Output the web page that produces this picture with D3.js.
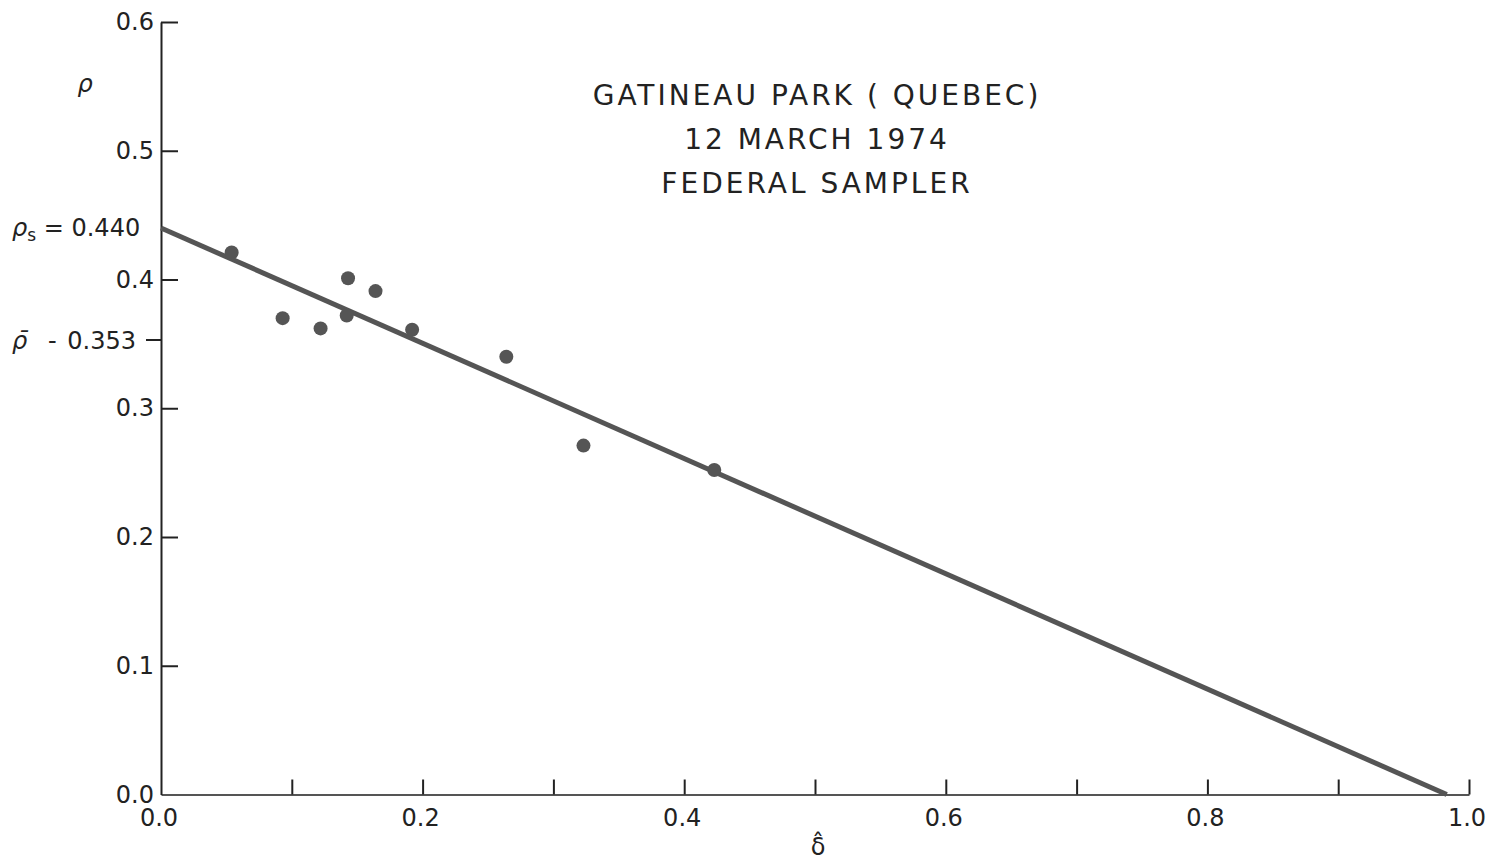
<!DOCTYPE html>
<html>
<head>
<meta charset="utf-8">
<script src="https://cdn.jsdelivr.net/npm/d3@7"></script>
<style>
body{margin:0;background:#fff;}
svg{display:block;font-family:"DejaVu Sans",sans-serif;}
</style>
</head>
<body>
<div id="chart"></div>
<script>
////////////////////////////////////////
// data

var delta = [0.054, 0.093, 0.122, 0.142, 0.143, 0.164, 0.192, 0.264, 0.323, 0.423];
var rho   = [0.421, 0.370, 0.362, 0.372, 0.401, 0.391, 0.361, 0.340, 0.271, 0.252];

var fitDelta = [0.0, 0.983];
var fitRho   = [0.440, 0.0];

var rhoS = 0.440;
var rhoBar = 0.353;

var xTicks = [0.1, 0.2, 0.3, 0.4, 0.5, 0.6, 0.7, 0.8, 0.9, 1.0];
var xLabels = [0.0, 0.2, 0.4, 0.6, 0.8, 1.0];
var yTicks = [0.0, 0.1, 0.2, 0.3, 0.4, 0.5, 0.6];

var titleLines = ['GATINEAU PARK ( QUEBEC)', '12 MARCH 1974', 'FEDERAL SAMPLER'];

////////////////////////////////////////

var W = 1494, H = 863;
var x0 = 161, x1 = 1469;
var y0 = 794.5, y1 = 22;

var svg = d3.select('#chart').append('svg')
	.attr('width', W)
	.attr('height', H);

var x = d3.scaleLinear().domain([0, 1]).range([x0, x1]);
var y = d3.scaleLinear().domain([0, 0.6]).range([y0, y1]);

var ink = '#222';
var grey = '#555';
var fs = 24;

// x axis, ticks pointing up into the plot
var xAxis = svg.append('g')
	.attr('transform', 'translate(0,' + y0 + ')')
	.call(d3.axisBottom(x)
		.tickValues(xTicks)
		.tickSizeInner(-15)
		.tickSizeOuter(0)
		.tickFormat(''));
xAxis.select('.domain').attr('stroke', grey).attr('stroke-width', 2);
xAxis.selectAll('.tick line').attr('stroke', ink).attr('stroke-width', 2);

svg.append('g').selectAll('text')
	.data(xLabels)
	.enter().append('text')
	.attr('x', function(d){ return x(d) - 2; })
	.attr('y', y0 + 31)
	.attr('text-anchor', 'middle')
	.attr('font-size', fs)
	.attr('fill', ink)
	.text(function(d){ return d.toFixed(1); });

// y axis, ticks pointing right
var yAxis = svg.append('g')
	.attr('transform', 'translate(' + x0 + ',0)')
	.call(d3.axisLeft(y)
		.tickValues(yTicks)
		.tickSizeInner(-17)
		.tickSizeOuter(0)
		.tickPadding(7)
		.tickFormat(function(d){ return d.toFixed(1); }));
yAxis.select('.domain').attr('stroke', ink).attr('stroke-width', 2);
yAxis.selectAll('.tick line').attr('stroke', ink).attr('stroke-width', 2);
yAxis.selectAll('.tick text')
	.attr('font-size', fs)
	.attr('fill', ink)
	.attr('font-family', '"DejaVu Sans",sans-serif');
yAxis.selectAll('.tick').filter(function(d){ return d === 0; }).select('line').remove();

// mean rho marker, tick outside the axis
svg.append('line')
	.attr('x1', x0 - 15).attr('x2', x0)
	.attr('y1', y(rhoBar)).attr('y2', y(rhoBar))
	.attr('stroke', ink).attr('stroke-width', 2);

var rb = svg.append('text')
	.attr('y', y(rhoBar) + 9)
	.attr('font-size', fs)
	.attr('fill', ink);
rb.append('tspan').attr('x', 12).attr('font-style', 'italic').text('ρ̄');
rb.append('tspan').attr('x', 48).text('-');
rb.append('tspan').attr('x', 136).attr('text-anchor', 'end').text(rhoBar.toFixed(3));

var rs = svg.append('text')
	.attr('x', 12)
	.attr('y', y(rhoS) + 8)
	.attr('font-size', fs)
	.attr('fill', ink);
rs.append('tspan').attr('font-style', 'italic').text('ρ');
rs.append('tspan').attr('font-size', 17).attr('dy', 5).text('s');
rs.append('tspan').attr('dy', -5).text(' = ' + rhoS.toFixed(3));

// axis names
svg.append('text')
	.attr('x', 85).attr('y', 92)
	.attr('text-anchor', 'middle')
	.attr('font-size', fs)
	.attr('font-style', 'italic')
	.attr('fill', ink)
	.text('ρ');

svg.append('text')
	.attr('x', x(0.5) + 3).attr('y', 855)
	.attr('text-anchor', 'middle')
	.attr('font-size', 24)
	.attr('fill', ink)
	.text('δ̂');

// title block
svg.append('g').selectAll('text')
	.data(titleLines)
	.enter().append('text')
	.attr('x', 817)
	.attr('y', function(d, i){ return 105 + i * 44; })
	.attr('text-anchor', 'middle')
	.attr('font-size', 28)
	.attr('letter-spacing', 3)
	.attr('fill', ink)
	.text(function(d){ return d; });

// fitted line
var line = d3.line()
	.x(function(d){ return x(d[0]); })
	.y(function(d){ return y(d[1]); });

svg.append('path')
	.datum(d3.zip(fitDelta, fitRho))
	.attr('d', line)
	.attr('fill', 'none')
	.attr('stroke', grey)
	.attr('stroke-width', 5);

// samples
svg.append('g').selectAll('circle')
	.data(d3.zip(delta, rho))
	.enter().append('circle')
	.attr('cx', function(d){ return x(d[0]); })
	.attr('cy', function(d){ return y(d[1]); })
	.attr('r', 7)
	.attr('fill', grey);
</script>
</body>
</html>
